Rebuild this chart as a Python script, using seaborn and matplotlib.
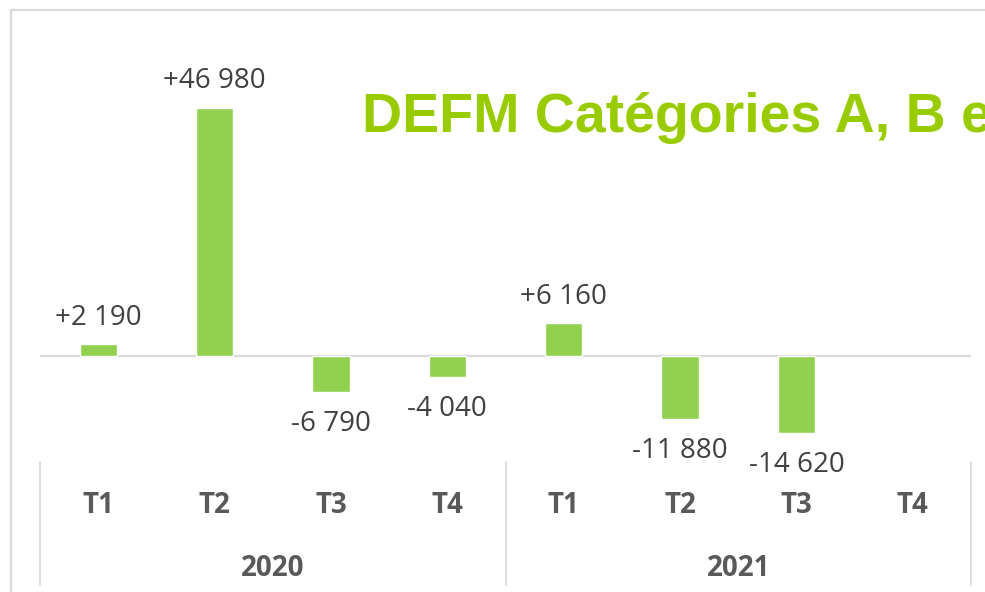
import numpy as np
import pandas as pd
import matplotlib
matplotlib.use("Agg")
import matplotlib.pyplot as plt
from matplotlib.patches import Rectangle
import seaborn as sns

# Quarterly change in job seekers (categories A, B and C)
years = ["2020", "2021"]
quarters = ["T1", "T2", "T3", "T4"]
values_2020 = [2190, 46980, -6790, -4040]
values_2021 = [6160, -11880, -14620, np.nan]
title_text = "DEFM Catégories A, B et C"

periods = [f"{y} {q}" for y in years for q in quarters]
df = pd.DataFrame({
    "periode": periods,
    "trimestre": quarters * len(years),
    "annee": [y for y in years for _ in quarters],
    "variation": values_2020 + values_2021,
})

sns.set_theme(style="white")
plt.rcParams["font.family"] = ["Open Sans", "DejaVu Sans"]

W, H = 985, 592
fig = plt.figure(figsize=(W / 100, H / 100), dpi=100)
fig.patch.set_facecolor("white")

ax_left, ax_right, ax_top, ax_bottom = 40, 971, 10, 462
ax = fig.add_axes([ax_left / W, 1 - ax_bottom / H,
                   (ax_right - ax_left) / W, (ax_bottom - ax_top) / H])

green = "#92d050"
grid_grey = "#d9d9d9"
text_grey = "#404040"
tick_grey = "#595959"
fs = 20

sns.barplot(data=df, x="periode", y="variation", order=periods,
            color=green, width=0.32, saturation=1, ax=ax, errorbar=None)

ax.set_xlim(-0.5, len(periods) - 0.5)
ax.set_ylim(-20076, 65530)
ax.axhline(0, color=grid_grey, lw=1.6, zorder=0)

for s in ax.spines.values():
    s.set_visible(False)
ax.set_yticks([])
ax.set_xlabel("")
ax.set_ylabel("")
ax.set_xticks(range(len(periods)))
ax.set_xticklabels(df["trimestre"], fontsize=fs, fontweight="bold", color=tick_grey)
ax.tick_params(axis="x", length=0, pad=21)


def fmt(v):
    s = f"{abs(int(v)):,}".replace(",", " ")
    return ("+" if v > 0 else "-") + s


for i, v in enumerate(df["variation"]):
    if np.isnan(v):
        continue
    if v >= 0:
        ax.annotate(fmt(v), (i, v), xytext=(0, 14), textcoords="offset points",
                    ha="center", va="baseline", fontsize=fs, color=text_grey)
    else:
        ax.annotate(fmt(v), (i, v), xytext=(0, -13), textcoords="offset points",
                    ha="center", va="top", fontsize=fs, color=text_grey)

# Year labels and group separators under the quarter labels
trans = ax.get_xaxis_transform()
n = len(quarters)
for k, y in enumerate(years):
    center = k * n + (n - 1) / 2
    ax.text(center, -(568 - ax_bottom) / (ax_bottom - ax_top), y, transform=trans,
            ha="center", va="center", fontsize=fs, fontweight="bold",
            color=tick_grey)
sep_bottom = -(585 - ax_bottom) / (ax_bottom - ax_top)
for xs in [-0.5 + k * n for k in range(len(years) + 1)]:
    ax.plot([xs, xs], [0, sep_bottom], transform=trans, color=grid_grey,
            lw=1.3, clip_on=False)

# Chart area frame
fig.patches.append(Rectangle((11 / W, -0.1), 1.1, 1.1 - 10 / H,
                             transform=fig.transFigure, fill=False,
                             edgecolor=grid_grey, lw=1.6))

fig.text(362 / W, 1 - 132 / H, title_text, fontsize=40, fontweight="bold",
         color="#99cc00", family=["Liberation Sans", "DejaVu Sans"],
         ha="left", va="baseline")

fig.savefig("out.png", dpi=100)
